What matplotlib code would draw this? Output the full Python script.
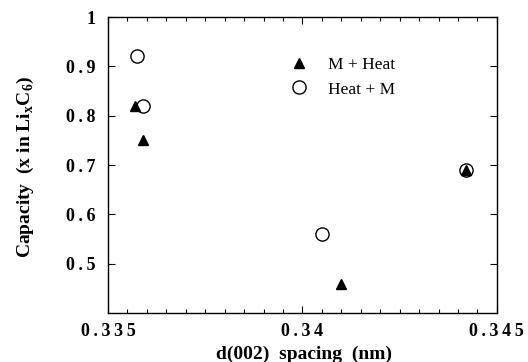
import matplotlib
matplotlib.use("Agg")
import matplotlib.pyplot as plt
from matplotlib.ticker import MultipleLocator

# data
m_heat_x = [0.33570, 0.33590, 0.34100, 0.34420]
m_heat_y = [0.82, 0.75, 0.46, 0.69]
heat_m_x = [0.33575, 0.33590, 0.34050, 0.34420]
heat_m_y = [0.92, 0.82, 0.56, 0.69]
xticks = [0.335, 0.34, 0.345]
xtick_labels = ["0.335", "0.34", "0.345"]
yticks = [0.5, 0.6, 0.7, 0.8, 0.9, 1.0]
ytick_labels = ["0.5", "0.6", "0.7", "0.8", "0.9", "1"]

plt.rcParams['font.family'] = ['Liberation Serif', 'DejaVu Serif']


def spaced(s):
    return "\u2009".join(s)


fig = plt.figure(figsize=(5.28, 3.62), dpi=100)
ax = fig.add_axes([0.2045, 0.135, 0.7365, 0.818])

ax.plot(m_heat_x, m_heat_y, linestyle='none', marker='^', color='black',
        markersize=7.5, label='M + Heat', zorder=2)
ax.plot(heat_m_x, heat_m_y, linestyle='none', marker='o', markerfacecolor='none',
        markeredgecolor='black', markeredgewidth=1.0, markersize=9.5,
        label='Heat + M', zorder=3)

ax.set_xlim(0.335, 0.345)
ax.set_ylim(0.4, 1.0)
ax.set_xticks(xticks)
ax.set_xticklabels([spaced(t) for t in xtick_labels], fontsize=13, fontweight='bold')
ax.set_yticks(yticks)
ax.set_yticklabels([spaced(t) for t in ytick_labels], fontsize=13, fontweight='bold')
ax.xaxis.set_minor_locator(MultipleLocator(0.0005))
ax.tick_params(which='both', direction='in', top=True, right=True)
ax.tick_params(which='major', length=5, width=0.8)
ax.tick_params(axis='y', which='major', pad=9)
ax.tick_params(axis='x', which='major', pad=7)
ax.tick_params(which='minor', length=3, width=0.8)
for s in ax.spines.values():
    s.set_linewidth(1.0)

ax.set_xlabel("d(002)  spacing  (nm)", fontsize=14, fontweight='bold')
ax.xaxis.set_label_coords(0.505, -0.11)
ax.set_ylabel("Capacity  (x in Li$_\\mathregular{x}$C$_\\mathregular{6}$)", fontsize=14,
              fontweight='bold')
ax.yaxis.set_label_coords(-0.185, 0.495)

ax.legend(loc='upper left', bbox_to_anchor=(0.428, 0.89), frameon=False,
          fontsize=12.5, handletextpad=0.7, labelspacing=0.5, borderaxespad=0)

fig.savefig("out.png", dpi=100)
